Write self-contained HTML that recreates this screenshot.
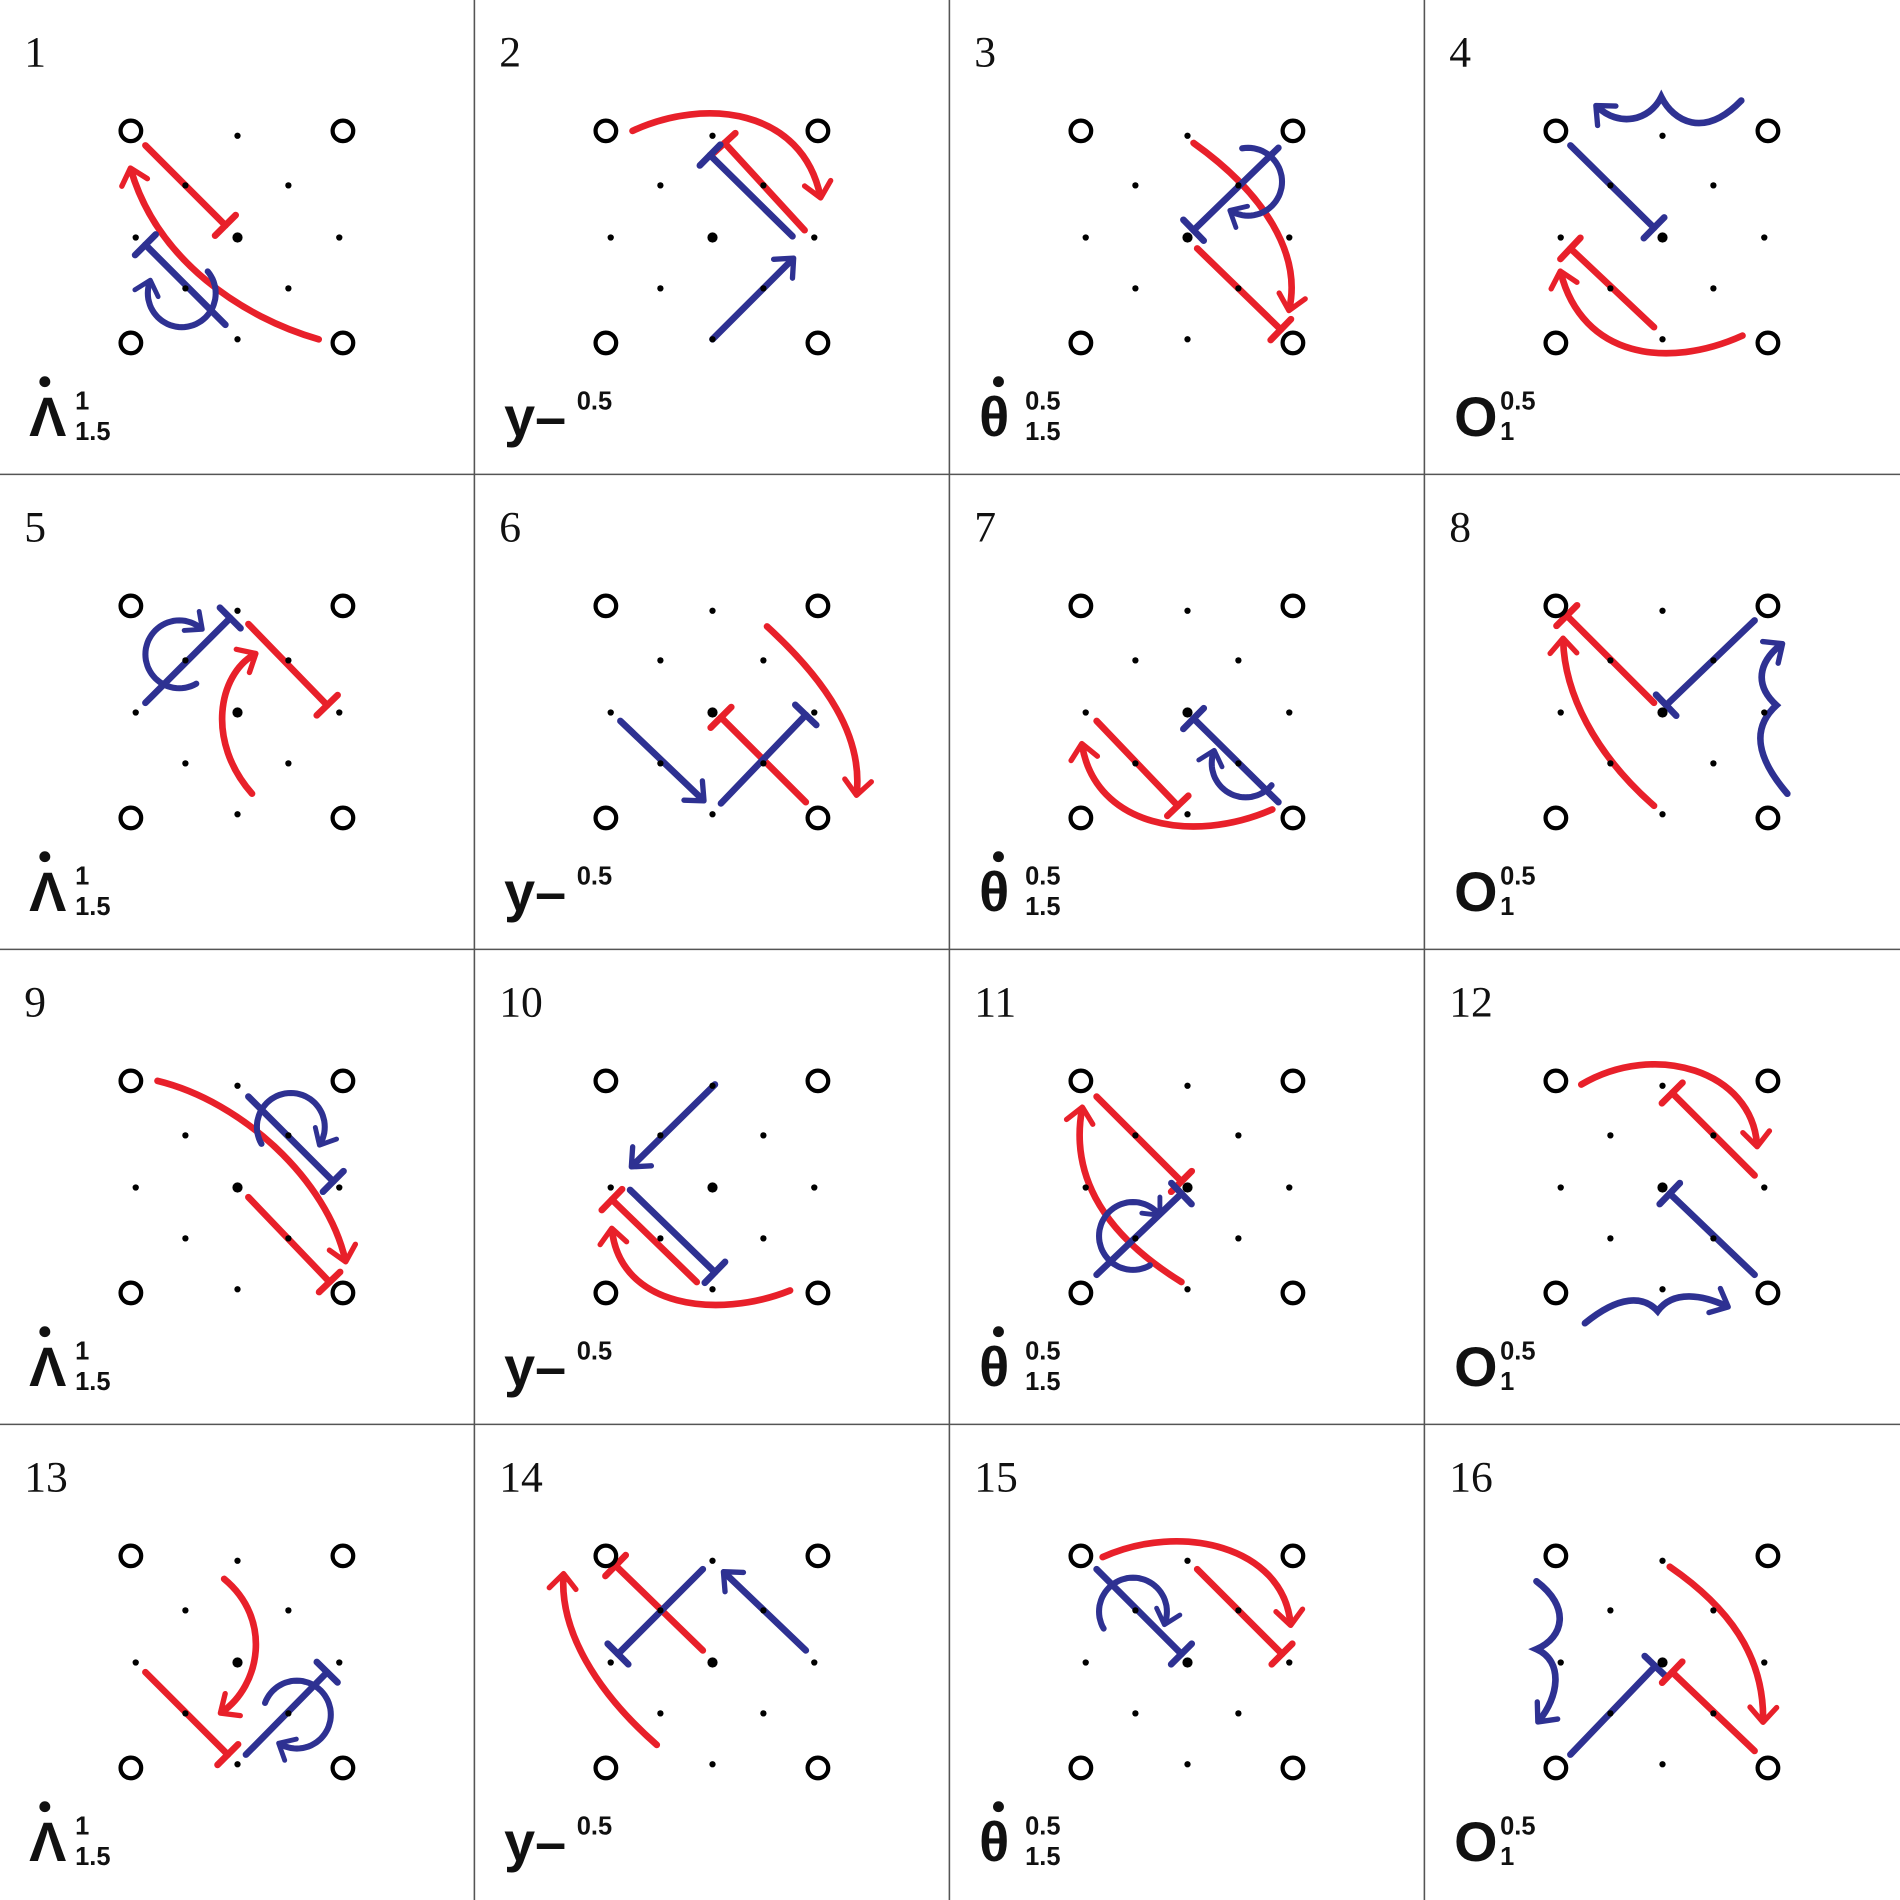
<!DOCTYPE html>
<html><head><meta charset="utf-8"><style>
html,body{margin:0;padding:0;background:#fff}
svg{display:block}
.num{font-family:"Liberation Serif",serif;font-size:36px;font-weight:normal;fill:#111}
.sym{font-family:"Liberation Sans",sans-serif;font-size:46px;font-weight:bold;fill:#111}
.sc{font-family:"Liberation Sans",sans-serif;font-size:21px;font-weight:bold;fill:#111}
</style></head><body>
<svg id="fig" width="1900" height="1900" viewBox="0 0 1568 1568" xmlns="http://www.w3.org/2000/svg">
<defs>
<marker id="ahR" viewBox="0 0 20 20" refX="10" refY="10" markerWidth="5" markerHeight="5" markerUnits="strokeWidth" orient="auto"><path d="M2,2 L11,10 L2,18" fill="none" stroke="#e8202a" stroke-width="3.2" stroke-linecap="round" stroke-linejoin="round"/></marker>
<marker id="ahB" viewBox="0 0 20 20" refX="10" refY="10" markerWidth="5" markerHeight="5" markerUnits="strokeWidth" orient="auto"><path d="M2,2 L11,10 L2,18" fill="none" stroke="#2e3192" stroke-width="3.2" stroke-linecap="round" stroke-linejoin="round"/></marker>
</defs>
</svg>
<script>
const NS='http://www.w3.org/2000/svg';
const svg=document.getElementById('fig');
const RED='#e8202a', BLUE='#2e3192';
const tbars=[
[[0,'r',120,120,186,186],[0,'b',186,268,120,202]],
[[1,'r',272,190,206,118],[1,'b',262,195,194,128]],
[[2,'b',271,122,201,190],[2,'r',204,205,273,272]],
[[3,'b',120,120,189,188],[3,'r',189,270,120,205]],
[[4,'b',120,188,190,118],[4,'r',205,123,270,190]],
[[5,'r',273,270,203,200],[5,'b',203,271,273,198]],
[[6,'r',121,203,188,273],[6,'b',271,270,201,201]],
[[7,'r',189,188,117,116],[7,'b',272,120,199,190]],
[[8,'b',205,121,275,191],[8,'r',205,204,272,274]],
[[9,'b',128,198,198,266],[9,'r',183,274,113,206]],
[[10,'r',121,121,191,191],[10,'b',121,268,191,201]],
[[11,'r',272,186,204,118],[11,'b',272,268,202,201]],
[[12,'r',120,204,188,272],[12,'b',203,272,270,204]],
[[13,'r',188,186,116,116],[13,'b',188,119,118,189]],
[[14,'b',121,119,191,189],[14,'r',204,119,274,189]],
[[15,'b',120,272,190,199],[15,'r',272,269,204,204]]
];
const curves=[
[0,'r','M263,280 C200,262 130,215 108,140'],
[1,'r','M130,108 C190,80 270,90 285,162'],
[2,'r','M201,118 C260,160 290,210 280,255'],
[3,'r','M262,277 C200,305 130,295 112,225'],
[4,'r','M208,263 C170,220 180,165 210,148'],
[5,'r','M241,125 C290,170 320,215 315,263'],
[6,'r','M266,276 C200,305 120,290 109,223'],
[7,'r','M189,273 C140,230 115,180 114,136'],
[8,'r','M130,108 C200,125 270,190 285,256'],
[9,'r','M260,281 C200,305 120,295 113,231'],
[10,'r','M191,274 C120,230 100,180 109,131'],
[11,'r','M129,111 C190,75 270,100 274,161'],
[12,'r','M185,127 C225,160 215,215 183,237'],
[13,'r','M150,264 C100,220 70,170 73,124'],
[14,'r','M126,109 C190,80 275,100 281,164'],
[15,'r','M202,117 C250,150 280,190 279,244'],
[1,'b','M196,280 L262,214'],
[5,'b','M120,203 L188,268'],
[9,'b','M198,111 L130,178'],
[13,'b','M273,186 L206,122'],
[3,'b','M261,83 C230,115 205,100 195,80 C185,100 160,105 142,88'],
[7,'b','M299,263 C275,235 268,210 290,190 C268,170 280,150 294,140'],
[11,'b','M132,308 C160,285 180,285 192,298 C205,280 230,285 249,294'],
[15,'b','M92,129 C120,150 115,175 92,185 C115,195 110,225 94,244']
];
const curls=[
[0,150,242,-40,200],[2,246,150,-100,120],[4,148,148,60,310],[6,244,238,40,200],
[8,240,146,150,390],[10,151,236,60,320],[12,245,239,200,480],[14,151,154,150,380]
];
const symbols=['Λ','y','θ','O'];
const supers=['1','0.5','0.5','0.5'];
const subs=['1.5','','1.5','1'];
function el(t,a,p){const e=document.createElementNS(NS,t);for(const k in a)e.setAttribute(k,a[k]);(p||svg).appendChild(e);return e;}
function org(i){return [(i%4)*392,Math.floor(i/4)*392];}
for(let k=1;k<4;k++){
 const v=el('line',{x1:k*392-0.5,y1:0,x2:k*392-0.5,y2:1568,stroke:'#555','stroke-width':1.3});
 
 const h=el('line',{x1:0,y1:k*392-0.5,x2:1568,y2:k*392-0.5,stroke:'#555','stroke-width':1.3});
 
}
const cellGroups=[];
for(let i=0;i<16;i++){
 const [ox,oy]=org(i);
 const g=el('g',{transform:`translate(${ox},${oy})`});
 
 
 cellGroups.push(g);
 const n=el('text',{x:20,y:55,class:'num'},g);n.textContent=String(i+1);
 
 const c=i%4;
 const s=el('text',{x:24,y:360,class:'sym'},g);s.textContent=symbols[c]+(c===1?'–':'');
 
 if(c===0||c===2){const d=el('circle',{cx:c===0?37:40,cy:315,r:4.5,fill:'#111'},g);}
 const sx=c===1?84:62;
 const sp=el('text',{x:sx,y:338,class:'sc'},g);sp.textContent=supers[c];
 
 if(subs[c]){const sb=el('text',{x:62,y:363,class:'sc'},g);sb.textContent=subs[c];
 }
}
function col(k){return k==='r'?RED:BLUE;}
curves.forEach(([i,k,d])=>{
 const p=el('path',{d:d,fill:'none',stroke:col(k),'stroke-width':5.5,'stroke-linecap':'round','marker-end':k==='r'?'url(#ahR)':'url(#ahB)'},cellGroups[i]);
 
 
});
curls.forEach(([i,cx,cy,a0,a1])=>{
 const r=28;let d='';
 for(let a=a0;a<=a1;a+=5){const t=a*Math.PI/180;d+=(d?'L':'M')+(cx+r*Math.cos(t)).toFixed(1)+','+(cy+r*Math.sin(t)).toFixed(1);}
 const p=el('path',{d:d,fill:'none',stroke:BLUE,'stroke-width':5,'stroke-linecap':'round','marker-end':'url(#ahB)'},cellGroups[i]);
 
 
});
tbars.flat().forEach(([i,k,x1,y1,x2,y2])=>{
 const g=cellGroups[i];
 const l=el('line',{x1,y1,x2,y2,stroke:col(k),'stroke-width':5.5,'stroke-linecap':'round'},g);
 
 
 const dx=x2-x1,dy=y2-y1,L=Math.hypot(dx,dy),nx=-dy/L*12,ny=dx/L*12;
 const b=el('line',{x1:x2+nx,y1:y2+ny,x2:x2-nx,y2:y2-ny,stroke:col(k),'stroke-width':5.5,'stroke-linecap':'round'},g);
 
 
});
const circ=[[108,108],[283,108],[108,283],[283,283]];
const dots=[[196,112],[153,153],[238,153],[112,196],[280,196],[153,238],[238,238],[196,280]];
cellGroups.forEach(g=>{
 circ.forEach(([x,y])=>{const c=el('circle',{cx:x,cy:y,r:8.5,fill:'#fff',stroke:'#000','stroke-width':3.5},g);
  });
 dots.forEach(([x,y])=>{const c=el('circle',{cx:x,cy:y,r:2.6,fill:'#000'},g);
  });
 const c=el('circle',{cx:196,cy:196,r:4.2,fill:'#000'},g);
 
});
</script>
</body></html>
